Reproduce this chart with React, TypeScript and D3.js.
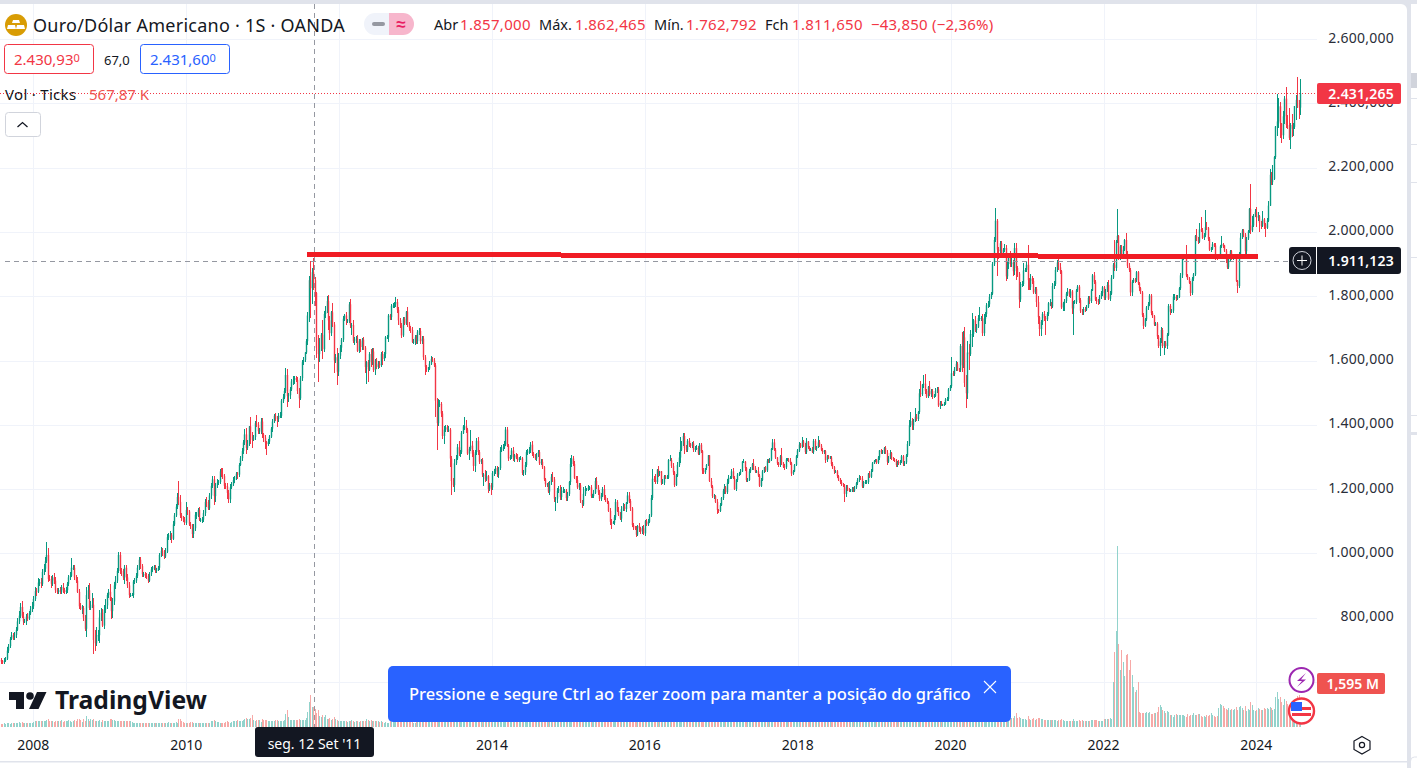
import * as d3 from 'd3'

// weekly closes (aug 2007 -> aug 2024)
const closesA = [
  663,661,666,672,697,711,733,745,738,746,762,788,806,833,803,788,788,803,797,813,826,835,
  858,882,881,909,910,905,942,952,975,995,920,918,905,
  925,915,885,880,885,880,895,885,880,885,905,925,930,
  955,955,925,915,880,835,830,830,800,765,870,885,830,
  835,840,730,720,745,745,800,815,775,825,838,870,880,
  855,820,850,900,915,945,995,945,940,925,955,925,900,
  870,870,870,912,915,930,955,980,960,935,935,930,927,
  915,937,950,953,958,945,950,955,995,1008,1005,990,1005,
  1050,1052,1057,1045,1090,1118,1145,1175,1160,1118,1110,1105,1095,
  1135,1130,1090,1085,1060,1078,1120,1120,1135,1105,1105,1105,1125,
  1160,1155,1140,1180,1210,1230,1178,1212,1220,1222,1255,1245,1240,
  1210,1208,1188,1168,1205,1215,1228,1235,1248,1245,1275,1296,1318,
  1345,1370,1328,1340,1395,1368,1353,1362,1405,1400,1380,1382,1410,
  1370,1360,1345,1340,1348,1363,1388,1410,1428,1420,1418,1428,1428,
  1475,1485,1505,1555,1490,1492,1510,1535,1540,1545,1540,1505,1482,
  1545,1595,1602,1625,1660,1740,1850,1825,1875,1850,1810,1640,1620,
  1635,1680,1635,1745,1755,1785,1725,1685,1750,1712,1600,1610,1565,
]
const closesB = [
  1615,1640,1665,1730,1740,1725,1725,1775,1710,1710,1660,1665,1668,
  1630,1660,1642,1665,1640,1580,1595,1572,1620,1595,1628,1570,1600,
  1580,1590,1585,1620,1605,1620,1672,1672,1740,1735,1770,1772,1775,
  1782,1758,1725,1710,1678,1730,1715,1752,1712,1700,1695,1658,1658,1672,
  1660,1688,1692,1660,1668,1610,1580,1575,1575,1590,1605,1600,1585,
  1475,1405,1465,1465,1435,1365,1385,1392,1385,1385,1295,1225,1212,
  1280,1295,1330,1310,1315,1375,1395,1395,1385,1310,1325,1335,1310,
  1272,1315,1350,1315,1285,1290,1245,1245,1230,1240,1200,1212,1205,
  1250,1255,1265,1245,1265,1320,1325,1330,1340,1385,1335,1295,1300,
  1320,1295,1305,1300,1290,1295,1295,1250,1252,1275,1315,1315,1320,
  1338,1310,1305,1295,1305,1315,1280,1285,1268,1230,1215,1215,1192,
  1222,1238,1230,1170,1170,1195,1200,1175,1195,1195,1195,1172,1185,
  1222,1278,1295,1278,1235,1228,1205,1212,1165,1152,1185,1200,1200,
  1205,1205,1178,1178,1188,1225,1205,1190,1170,1180,1200,1175,1165,
  1158,1132,1098,1095,1095,1112,1160,1132,1120,1108,1138,1145,1138,
  1158,1180,1163,1140,1088,1080,1078,1058,1085,1078,1068,1078,1062,
]
const closesC = [
  1100,1090,1098,1118,1172,1232,1228,1222,1260,1250,1255,1220,1220,
  1240,1235,1235,1290,1290,1272,1252,1212,1242,1275,1298,1322,1340,
  1365,1328,1322,1350,1338,1335,1342,1322,1328,1328,1310,1338,1318,
  1258,1252,1265,1275,1305,1225,1208,1178,1178,1160,1135,1132,1150,
  1172,1195,1205,1190,1220,1235,1235,1255,1235,1200,1228,1245,1248,
  1255,1285,1285,1265,1228,1228,1255,1265,1278,1265,1255,1255,1242,
  1210,1228,1255,1268,1258,1288,1285,1292,1325,1345,1322,1298,1280,
  1275,1302,1280,1270,1268,1292,1292,1288,1280,1248,1255,1275,1302,
  1320,1338,1332,1348,1335,1315,1348,1330,1322,1323,1315,1350,1325,
  1332,1345,1335,1322,1315,1318,1290,1302,1298,1298,1278,1268,1255,
  1255,1240,1230,1222,1215,1212,1185,1205,1198,1195,1195,1200,1195,
  1205,1218,1228,1235,1232,1208,1222,1222,1222,1248,1238,1255,1280,1288,
  1290,1282,1298,1320,1315,1315,1328,1313,1285,1298,1312,1295,1292,
  1290,1275,1285,1280,1285,1302,1278,1283,1305,1340,1398,1412,1398,
  1415,1425,1418,1440,1498,1495,1525,1528,1505,1488,1518,1495,1505,
  1488,1490,1505,1510,1460,1468,1462,1462,1465,1478,1480,1510,1520,
]
const closesD = [
  1560,1558,1572,1590,1572,1570,1645,1585,1672,1530,1498,1625,1620,
  1682,1682,1725,1695,1705,1732,1732,1732,1685,1730,1745,1772,1775,
  1798,1808,1900,1975,2035,1945,1940,1965,1935,1945,1950,1862,1900,
  1930,1900,1905,1878,1950,1888,1870,1790,1838,1838,1880,1882,1898,
  1850,1828,1855,1848,1812,1822,1782,1735,1698,1720,1745,1732,1728,
  1745,1778,1778,1768,1832,1838,1882,1905,1890,1878,1765,1778,1785,
  1808,1815,1802,1815,1762,1780,1782,1818,1830,1788,1755,1750,1760,
  1758,1768,1795,1785,1818,1865,1845,1790,1785,1782,1798,1810,1828,
  1795,1818,1835,1792,1808,1858,1898,1888,1970,1988,1922,1955,1925,
  1945,1975,1932,1895,1882,1812,1845,1852,1850,1875,1840,1825,1812,
  1742,1708,1728,1765,1775,1802,1748,1738,1712,1715,1675,1645,1660,
  1695,1645,1655,1645,1680,1770,1752,1755,1798,1798,1792,1798,1825,
  1865,1920,1928,1928,1865,1855,1842,1810,1855,1868,1988,1978,1970,
  2008,2005,1982,1990,2015,2012,1978,1945,1948,1962,1958,1922,1920,
  1925,1955,1962,1958,1942,1915,1890,1915,1940,1918,1925,1925,1848,
  1832,1932,1982,2005,1992,1940,1980,2002,2072,2005,2020,2052,2062,
  2045,2049,2029,2018,2039,2024,2013,2035,2082,2178,2155,2165,2233,
  2328,2344,2391,2338,2301,2360,2415,2333,2327,2293,2333,2321,2327,
  2392,2411,2400,2387,2431,
]

// how far the high sticks out over the body
const wickUpA = [
  5,4,9,5,10,6,8,10,7,9,8,12,14,12,18,14,8,9,12,7,9,12,
  10,14,9,15,9,12,8,14,12,40,22,12,12,
  9,14,10,8,6,9,6,12,8,9,7,8,12,
  30,10,10,9,12,8,9,10,7,8,25,15,22,
  15,35,20,30,25,16,22,15,12,15,20,8,10,
  25,10,12,10,14,10,10,8,10,12,10,8,10,
  12,6,8,6,8,8,10,10,8,8,8,6,8,
  8,4,8,6,6,5,4,5,6,12,8,6,12,
  10,12,13,6,12,6,8,12,51,22,8,6,8,
  25,8,6,8,6,12,8,10,6,8,6,8,10,
  8,15,12,8,8,12,10,6,10,6,8,12,20,
  6,8,10,10,12,8,10,5,6,6,6,8,10,
  8,18,20,12,2,30,10,6,8,26,10,8,12,
  12,5,8,6,8,5,5,8,6,10,6,8,12,
  6,10,8,22,20,8,8,6,12,6,8,8,8,
  8,8,8,3,6,12,12,61,14,45,10,4,40,
  35,5,45,9,15,17,20,15,4,30,8,10,28,
]
const wickUpB = [
  8,8,5,10,5,12,5,8,17,8,15,8,8,
  12,8,8,5,8,6,5,8,8,15,10,12,6,
  8,8,8,8,10,6,3,6,6,5,6,6,8,
  15,8,8,8,8,5,6,3,15,8,8,8,8,6,
  8,6,8,8,8,8,8,6,6,8,8,6,8,
  8,8,15,12,6,8,10,8,8,12,4,8,10,
  15,12,10,18,8,5,5,28,20,5,5,50,15,
  12,8,10,11,8,5,8,5,15,15,5,8,8,
  6,8,8,8,5,10,12,10,10,7,7,5,5,
  8,10,5,8,8,5,8,5,6,8,6,10,10,
  8,10,6,5,8,8,8,8,8,5,5,5,6,
  2,8,15,8,5,8,8,13,12,10,5,5,5,
  2,18,12,8,10,6,12,6,8,2,20,8,4,
  8,6,8,8,8,8,12,8,8,8,5,14,6,
  6,6,8,8,6,8,8,6,12,8,10,10,8,
  2,12,10,6,5,5,6,8,2,8,4,8,10,
]
const wickUpC = [
  3,8,8,5,10,31,8,18,2,12,2,2,12,
  5,5,10,2,15,6,8,3,4,8,17,40,8,
  10,10,8,6,8,5,5,6,5,8,5,6,6,
  2,8,2,2,1,2,8,4,8,3,8,4,5,
  3,5,10,3,10,8,5,8,12,5,3,5,5,
  8,3,8,3,5,5,7,3,2,15,6,5,15,
  5,5,5,2,5,5,6,4,2,12,10,5,2,
  5,5,25,5,8,4,5,5,8,5,5,2,3,
  5,8,5,14,5,8,10,2,3,5,7,5,5,
  3,20,8,5,5,5,5,5,5,5,5,5,5,
  5,5,3,5,5,5,5,8,8,5,5,5,5,
  3,5,6,8,5,8,3,5,6,3,8,8,3,3,
  5,5,5,3,5,5,2,5,10,5,8,3,5,
  5,5,3,5,5,3,5,3,5,8,18,27,10,
  3,27,8,4,12,37,2,27,29,5,4,17,5,
  5,5,8,8,8,5,5,2,5,6,5,3,5,
]
const wickUpD = [
  51,8,8,8,5,5,5,44,19,31,25,35,25,
  13,66,5,15,10,10,33,5,13,15,5,8,10,
  10,5,8,10,40,5,8,8,8,5,12,8,8,
  3,10,15,8,15,15,5,5,5,8,25,5,10,
  61,8,15,8,8,8,8,20,5,5,5,8,5,
  5,5,12,5,8,8,10,8,11,15,5,5,5,
  5,10,8,8,5,5,5,5,5,5,5,5,5,
  5,5,5,5,5,3,12,6,8,5,5,5,3,
  5,6,8,15,8,8,5,76,5,82,2,5,5,
  10,3,23,10,10,5,5,5,5,5,5,5,5,
  3,5,5,5,8,5,5,5,5,5,5,5,10,
  10,5,5,5,5,5,5,5,8,10,5,5,3,
  8,5,5,5,30,5,5,5,5,5,2,22,5,
  20,40,8,8,52,15,5,5,5,6,5,8,5,
  3,5,25,5,3,5,3,5,5,5,5,8,3,
  3,5,15,5,5,5,5,5,3,76,30,5,10,
  16,12,5,5,25,6,5,8,13,17,8,45,5,
  2,87,26,14,2,18,7,35,31,60,6,35,13,
  1,14,72,12,46,
]

// how far the low sticks out under the body
const wickDownA = [
  7,6,5,4,3,8,6,4,8,7,9,5,8,6,5,12,6,10,7,6,4,8,
  8,7,14,5,10,12,6,8,10,6,8,5,12,
  6,10,8,8,6,8,8,7,6,6,7,8,8,
  5,8,8,8,5,8,5,18,10,8,25,12,8,
  6,5,44,25,10,18,25,10,5,12,12,10,8,
  5,25,20,10,10,8,6,10,10,8,20,12,8,
  8,6,4,8,8,6,6,8,8,8,8,8,8,
  8,4,8,8,6,5,6,5,8,6,12,8,6,
  4,8,12,14,4,6,6,8,10,8,10,8,6,
  8,10,5,8,12,12,8,12,6,6,8,12,8,
  8,10,6,6,10,6,28,18,8,6,6,8,8,
  10,8,18,10,10,6,6,8,8,14,6,4,8,
  10,8,20,8,6,28,25,4,8,8,8,8,10,
  12,15,20,35,5,8,5,10,5,8,25,8,8,
  8,6,6,6,35,18,12,6,12,12,8,8,30,
  5,8,8,6,6,12,20,93,50,30,40,33,87,
  25,5,30,8,12,8,30,20,10,8,40,8,42,
]
const wickDownB = [
  12,10,12,8,8,15,8,8,10,30,5,12,12,
  5,8,15,8,8,20,53,40,5,15,8,5,15,
  6,6,8,6,20,8,12,6,15,8,8,8,8,
  10,10,15,10,8,5,5,5,8,8,8,5,6,10,
  8,8,8,8,8,8,25,10,10,6,5,6,5,
  50,84,10,10,10,8,25,8,8,8,27,45,5,
  20,6,5,8,10,5,5,10,10,5,20,8,10,
  15,20,8,8,8,8,8,34,9,5,13,5,23,
  8,8,8,8,12,5,6,6,5,7,5,7,6,
  5,8,10,5,5,5,5,5,8,8,5,8,6,
  8,8,8,6,8,6,6,5,5,5,8,8,5,
  10,8,8,10,39,15,8,10,10,8,7,10,8,
  8,8,8,6,5,8,6,8,8,10,5,6,6,
  5,8,5,5,6,5,5,8,8,6,6,8,6,
  6,5,10,18,4,8,8,5,5,5,12,6,6,
  10,6,5,8,5,8,6,6,5,12,8,8,6,
]
const wickDownC = [
  8,5,5,5,5,5,5,5,5,12,10,6,4,
  8,5,5,5,3,5,8,5,2,5,5,18,5,
  5,18,8,8,8,6,6,6,6,5,5,5,5,
  10,5,5,5,2,2,4,5,8,5,12,8,5,
  3,5,10,6,5,5,5,5,5,4,5,5,5,
  5,3,5,8,5,5,3,5,5,5,5,5,5,
  5,5,3,5,5,5,5,3,5,5,5,5,5,
  5,5,5,5,8,5,5,5,5,8,5,2,3,
  5,5,5,5,5,5,5,5,5,5,3,5,5,
  8,5,5,5,5,5,8,5,5,5,5,5,8,
  5,5,5,5,5,5,25,10,5,5,5,5,5,
  5,5,5,5,5,5,5,5,5,5,5,5,3,3,
  5,5,5,8,5,5,5,5,10,5,5,5,5,
  5,5,5,5,5,5,5,5,5,5,5,5,15,
  15,5,5,5,8,10,5,10,10,5,5,5,8,
  8,5,5,5,5,10,5,5,5,5,5,5,5,
]
const wickDownD = [
  5,5,5,5,5,5,5,22,9,13,47,18,50,
  5,40,10,5,10,5,8,10,8,8,15,10,10,
  8,8,5,5,5,83,25,8,8,10,8,15,8,
  15,10,10,15,12,38,10,26,8,8,5,5,8,
  30,8,8,10,5,5,15,22,21,22,8,8,50,
  5,8,8,8,5,10,5,5,8,8,5,10,25,
  5,8,5,8,16,82,5,5,5,8,8,8,8,
  8,5,5,8,5,3,8,5,8,8,5,8,8,
  8,8,5,5,8,5,5,8,8,5,10,8,10,
  3,3,8,8,5,12,10,5,8,5,5,8,5,
  8,10,5,5,8,5,5,5,5,5,8,5,30,
  5,5,28,5,10,3,10,5,8,10,8,5,5,
  5,8,8,8,5,5,5,8,5,8,5,5,8,
  5,5,5,8,5,5,5,5,8,5,5,10,8,
  5,8,5,8,5,10,5,5,5,5,5,5,5,
  22,5,5,5,8,8,8,5,5,12,5,5,5,
  29,12,29,8,2,14,29,3,5,2,10,10,2,
  5,28,19,47,24,11,25,8,7,6,34,26,23,
  7,42,13,34,22,
]

// volume in units of 10K
const volumesA = [
  12,12,15,12,13,15,12,16,14,15,14,15,17,15,17,14,15,14,15,16,14,15,
  18,20,22,22,20,22,20,20,22,25,28,22,22,
  22,18,20,20,20,22,24,18,22,20,22,25,22,
  18,22,25,22,28,30,25,18,28,22,40,30,20,
  30,25,28,22,20,22,25,18,25,22,20,22,20,
  28,28,25,25,22,22,22,20,20,20,20,20,22,
  22,20,18,15,15,15,15,15,15,15,15,15,15,
  15,14,14,14,15,14,14,13,15,15,15,15,14,
  15,18,16,15,16,16,18,16,28,28,20,18,16,
  15,16,16,18,18,16,16,15,14,14,14,15,15,
  14,16,15,15,20,20,25,22,18,18,16,16,16,
  16,18,20,18,16,18,22,22,20,26,22,20,22,
  24,28,32,28,30,34,42,24,22,25,24,26,18,
  28,25,24,25,22,20,20,22,20,24,26,22,22,
  22,22,24,48,62,35,26,24,24,24,26,24,30,
  24,24,26,26,32,55,90,116,72,72,65,50,62,
  40,36,42,38,44,30,28,34,24,28,38,30,24,
]
const volumesB = [
  20,20,20,22,22,22,18,20,22,24,20,18,22,
  20,18,20,22,20,22,30,24,22,24,20,22,20,
  20,20,18,20,18,16,18,16,16,26,26,22,18,
  22,20,20,18,20,18,22,18,20,24,20,18,16,14,
  22,24,26,22,24,26,24,28,22,24,22,20,24,
  40,62,38,34,28,26,28,24,26,24,34,40,32,
  30,26,24,26,24,30,34,26,24,28,26,30,26,
  24,26,26,24,26,24,28,24,24,28,22,20,22,
  24,22,24,24,24,26,28,24,24,26,30,26,24,
  24,24,22,22,24,22,20,28,24,22,24,22,20,
  24,22,22,22,22,20,22,20,24,26,26,24,28,
  30,28,28,36,40,34,26,36,40,34,30,22,22,
  30,30,30,28,26,28,26,24,30,28,32,26,26,
  24,24,24,24,24,22,24,22,26,24,24,22,24,
  28,26,38,32,28,34,30,40,28,26,30,26,26,
  26,26,24,26,32,30,28,26,34,30,34,24,22,
]
const volumesC = [
  34,30,30,30,32,44,34,32,36,36,34,30,30,
  30,30,30,34,38,34,32,30,32,34,42,54,44,
  40,36,32,32,34,30,30,30,32,30,30,32,32,
  40,32,28,30,30,52,40,32,34,32,34,28,26,
  30,28,26,28,28,26,26,26,28,28,30,26,26,
  28,26,26,26,26,24,24,24,24,26,26,24,24,
  26,24,24,24,24,26,24,24,26,26,26,24,24,
  26,24,24,24,22,24,22,22,24,26,24,22,20,
  24,24,26,28,30,32,28,26,26,26,26,28,26,
  26,26,24,24,24,24,26,24,24,24,24,26,26,
  24,24,24,24,24,24,30,26,26,26,24,24,24,
  24,26,26,26,26,26,24,24,24,26,24,24,22,22,
  26,24,24,26,24,24,24,26,28,24,24,24,24,
  24,22,22,24,24,24,24,24,30,30,38,44,34,
  30,28,26,28,40,40,30,30,32,28,28,30,30,
  28,26,26,26,30,28,26,26,26,26,24,24,26,
]
const volumesD = [
  44,34,30,34,34,30,36,50,64,80,74,60,50,
  42,44,42,36,36,36,40,36,38,36,36,36,34,
  34,34,38,50,64,72,50,44,44,38,38,46,40,
  36,32,32,34,40,50,32,38,32,30,30,28,24,
  40,30,26,28,34,26,28,34,34,28,28,26,26,
  24,24,24,24,24,26,24,22,24,24,30,24,22,
  22,22,22,22,22,28,22,22,22,24,22,24,22,
  22,22,22,22,24,26,24,26,26,22,22,20,20,
  30,28,28,30,32,30,163,272,348,656,301,207,279,
  236,185,261,265,207,243,189,145,127,134,163,54,52,
  52,50,50,56,52,54,48,46,50,50,56,72,80,
  72,62,58,52,58,54,42,44,38,44,46,44,42,
  44,44,42,40,38,46,40,42,42,52,44,42,48,
  46,40,38,40,36,44,40,42,52,44,40,38,40,
  70,84,80,76,70,64,62,70,60,64,60,66,72,
  62,72,76,68,62,76,58,66,62,90,80,62,58,
  60,70,64,62,62,68,66,70,64,72,68,60,66,
  108,127,100,110,92,80,100,95,85,80,72,72,82,
  92,100,112,115,57,
]

const closes = [...closesA, ...closesB, ...closesC, ...closesD]
const wickUp = [...wickUpA, ...wickUpB, ...wickUpC, ...wickUpD]
const wickDown = [...wickDownA, ...wickDownB, ...wickDownC, ...wickDownD]
const volumes = [...volumesA, ...volumesB, ...volumesC, ...volumesD]

const firstOpen = 668
const priceTicks = [600, 800, 1000, 1200, 1400, 1600, 1800, 2000, 2200, 2400, 2600]
const priceLabels = [800, 1000, 1200, 1400, 1600, 1800, 2000, 2200, 2400, 2600]
const yearTicks = [2008, 2010, 2012, 2014, 2016, 2018, 2020, 2022, 2024]
const yearLabels = [2008, 2010, 2014, 2016, 2018, 2020, 2022, 2024]
const trendWeeks = [209, 857]
const trendPrices = [1930, 1923.8]
const lastPrice = 2431.265
const crossPrice = 1911.123
const crossWeek = 214
const ohlcLabels = ['Abr', 'Máx.', 'Mín.', 'Fch']
const ohlcValues = ['1.857,000', '1.862,465', '1.762,792', '1.811,650']
const ohlcLabelX = [434, 539, 654, 765]
const ohlcValueX = [460, 575, 686, 792]
const sideLines = [98, 144, 182, 257, 415]

const FONT = '"Noto Sans", sans-serif'
const INK = '#131722'
const AXIS = '#2a2e39'
const GRID = '#f0f3fa'
const UP = '#089981'
const DOWN = '#f23645'
const PANEL = '#e0e3eb'

// grid follows the calendar, bars follow the week number
const x = d3.scaleTime()
  .domain([new Date(2008, 0, 1), new Date(2024, 0, 1)])
  .range([33.3, 1256.3])
const xWeek = d3.scaleLinear().domain([0, 886]).range([1, 1300.3])
const y = d3.scaleLinear().domain([1000, 2600]).range([553.3, 39.2])
const yVol = d3.scaleLinear().domain([0, 656]).range([727, 546])
const money = d3.formatLocale({ decimal: ',', thousands: '.', grouping: [3], currency: ['', ''] }).format(',.3f')

const candles = closes.map((close, i) => {
  const open = i === 0 ? firstOpen : closes[i - 1]
  return {
    open, close,
    x: Math.round(xWeek(i)),
    high: Math.max(open, close) + (wickUp[i] ?? 0),
    low: Math.min(open, close) - (wickDown[i] ?? 0),
    vol: volumes[i] ?? 0,
  }
})

const trendLine = d3.line<number>()
  .x((_, i) => xWeek(trendWeeks[i]))
  .y(d => y(d))

const App = () => {
  const crossX = Math.floor(xWeek(crossWeek)) + 0.5
  const crossY = Math.round(y(crossPrice)) + 0.5
  const lastY = Math.round(y(lastPrice)) + 0.5

  return (
    <svg width={1417} height={768} style={{ position: 'absolute', left: 0, top: 0, background: '#fff', fontFamily: FONT }}>
      {/* grid */}
      {yearTicks.map(t => {
        const gx = Math.round(x(new Date(t, 0, 1))) + 0.5
        return <line key={t} x1={gx} x2={gx} y1={4} y2={727} stroke={GRID} />
      })}
      {priceTicks.map(t => (
        <line key={t} x1={0} x2={1317} y1={Math.round(y(t)) + 0.5} y2={Math.round(y(t)) + 0.5} stroke={GRID} />
      ))}

      {/* volume */}
      {candles.map((c, i) => (
        <rect key={i} x={c.x} width={1} y={yVol(c.vol)} height={727 - yVol(c.vol)}
          fill={c.close >= c.open ? '#92d3cc' : '#f7a9a7'} shapeRendering="crispEdges" />
      ))}

      {/* candles */}
      {candles.map((c, i) => {
        const top = y(Math.max(c.open, c.close))
        const bottom = y(Math.min(c.open, c.close))
        return (
          <g key={i} fill={c.close >= c.open ? UP : DOWN}>
            <rect x={c.x} width={1} y={y(c.high)} height={y(c.low) - y(c.high)} shapeRendering="crispEdges" />
            <rect x={c.x - 0.2} width={1.4} y={top} height={Math.max(bottom - top, 1)} />
          </g>
        )
      })}

      {/* last price and crosshair */}
      <line x1={0} x2={1317} y1={lastY} y2={lastY} stroke={DOWN} strokeDasharray="1 2" />
      <line x1={5} x2={1289} y1={crossY} y2={crossY} stroke="#9598a1" strokeDasharray="5 4" />
      <line x1={crossX} x2={crossX} y1={4} y2={727} stroke="#9598a1" strokeDasharray="5 4" />

      {/* trend line */}
      <path d={trendLine(trendPrices) ?? ''} stroke="#f01c24" strokeWidth={5} fill="none" shapeRendering="crispEdges" />

      {/* price axis */}
      {priceLabels.map(t => (
        <text key={t} x={1394} y={y(t) + 3.5} textAnchor="end" fontSize={14} fill={AXIS} letterSpacing={0.25}>{money(t)}</text>
      ))}
      <rect x={1317} y={83} width={84} height={21} rx={2} fill={DOWN} />
      <text x={1394} y={98.5} textAnchor="end" fontSize={14} fontWeight={600} letterSpacing={0.2} fill="#fff">{money(lastPrice)}</text>

      <rect x={1289} y={247} width={112} height={27} rx={3} fill={INK} />
      <line x1={1316.5} x2={1316.5} y1={247} y2={274} stroke="#fff" />
      <circle cx={1302} cy={260.5} r={9} fill="none" stroke="#d1d4dc" />
      <path d="M1297 260.5H1307M1302 255.5V265.5" stroke="#fff" />
      <text x={1394} y={265.5} textAnchor="end" fontSize={14} fontWeight={600} letterSpacing={0.2} fill="#fff">{money(crossPrice)}</text>

      <rect x={1317} y={673} width={68} height={21} rx={2} fill="#ef5350" />
      <text x={1379} y={688.5} textAnchor="end" fontSize={14} fontWeight={600} fill="#fff">1,595 M</text>

      {/* time axis */}
      {yearLabels.map(t => (
        <text key={t} x={x(new Date(t, 0, 1))} y={750} textAnchor="middle" fontSize={14} fill={INK}>{t}</text>
      ))}
      <rect x={255} y={727} width={119} height={30} rx={3} fill={INK} />
      <text x={314.5} y={749} textAnchor="middle" fontSize={14} fill="#fff">seg. 12 Set '11</text>
      <path d="M1362 736.5L1370 741V749.5L1362 754L1354 749.5V741Z" fill="none" stroke={INK} strokeWidth={1.2} />
      <circle cx={1362} cy={745} r={2.6} fill="none" stroke={INK} strokeWidth={1.2} />

      {/* events */}
      <circle cx={1301.5} cy={680} r={12} fill="#fff" stroke="#9c27b0" strokeWidth={2} />
      <path d="M1306 673L1297 681H1302L1297 687L1306 679.5H1301Z" fill="#9c27b0" />
      <circle cx={1301.5} cy={711} r={12.5} fill="#fff" stroke="#f23645" strokeWidth={2.4} />
      <path d="M1292 707H1311V710H1292ZM1292 713H1311V716H1292Z" fill="#f23645" />
      <rect x={1291} y={702} width={11} height={9} fill="#2962ff" />

      {/* watermark */}
      <path d="M9 692H24V709H16V700H9Z" fill={INK} />
      <circle cx={30} cy={696} r={3.8} fill={INK} />
      <path d="M37 692H46.5L38.5 709H29Z" fill={INK} />
      <text x={55} y={709} fontSize={24.7} fontWeight={700} fill={INK}>TradingView</text>

      {/* toast */}
      <rect x={388} y={666} width={623} height={56} rx={5} fill="#2962ff" />
      <text x={409} y={699.5} fontSize={16.5} fontWeight={500} fill="#fff">Pressione e segure Ctrl ao fazer zoom para manter a posição do gráfico</text>
      <path d="M984 681L996 693M996 681L984 693" stroke="#fff" strokeWidth={1.1} />

      {/* legend */}
      <circle cx={16} cy={25} r={11} fill="#d89c04" />
      <path d="M13 20H19L20 23H12ZM8 25H15L16 29H7ZM17 25H24L25 29H16Z" fill="#fff" />
      <text x={33} y={32} fontSize={18} letterSpacing={0.25} fill={INK}>Ouro/Dólar Americano · 1S · OANDA</text>
      <path d="M375 13H389V35H375A11 11 0 0 1 375 13Z" fill={GRID} />
      <path d="M389 13H403A11 11 0 0 1 403 35H389Z" fill="#f7b6cc" />
      <rect x={372} y={22} width={13} height={4} rx={2} fill="#9598a1" />
      <text x={401} y={30} textAnchor="middle" fontSize={17} fontWeight={700} fill="#e91e63">≈</text>
      {ohlcLabels.map((l, i) => (
        <g key={l}>
          <text x={ohlcLabelX[i]} y={30} fontSize={14.5} fill={INK}>{l}</text>
          <text x={ohlcValueX[i]} y={30} fontSize={15} letterSpacing={0.3} fill={DOWN}>{ohlcValues[i]}</text>
        </g>
      ))}
      <text x={871} y={30} fontSize={15} letterSpacing={0.2} fill={DOWN}>−43,850 (−2,36%)</text>

      <rect x={4.5} y={44.5} width={89} height={29} rx={3} fill="#fff" stroke={DOWN} />
      <text x={14} y={65} fontSize={15} fill={DOWN}>2.430,93<tspan fontSize={11} dy={-3}>0</tspan></text>
      <text x={104} y={65} fontSize={13} fill={INK}>67,0</text>
      <rect x={140.5} y={44.5} width={89} height={29} rx={3} fill="#fff" stroke="#2962ff" />
      <text x={150} y={65} fontSize={15} fill="#2962ff">2.431,60<tspan fontSize={11} dy={-3}>0</tspan></text>

      <text x={5} y={100} fontSize={15} letterSpacing={0.3} fill={INK}>Vol · Ticks</text>
      <text x={89} y={100} fontSize={15} fill="#ef5350">567,87 K</text>
      <rect x={5.5} y={112.5} width={35} height={24} rx={3} fill="#fff" stroke="#d1d4dc" />
      <path d="M17.5 127L22.5 122.5L27.5 127" fill="none" stroke={INK} strokeWidth={1.3} />

      {/* page chrome */}
      <rect x={0} y={0} width={1417} height={4} fill={PANEL} />
      <rect x={1407} y={0} width={4} height={768} fill={PANEL} />
      <path d="M1401 4H1407V10A6 6 0 0 0 1401 4Z" fill={PANEL} />
      <rect x={1411} y={73} width={6} height={15} fill="#d1d4dc" />
      {sideLines.map(s => <rect key={s} x={1411} y={s} width={6} height={1} fill={PANEL} />)}
      <rect x={1411} y={432} width={6} height={3} fill={PANEL} />
      <rect x={0} y={761} width={1407} height={1.5} fill={PANEL} />
      <path d="M1410.5 768V761A4 4 0 0 1 1414.5 757H1417" fill="none" stroke={PANEL} />
    </svg>
  )
}

export default App
